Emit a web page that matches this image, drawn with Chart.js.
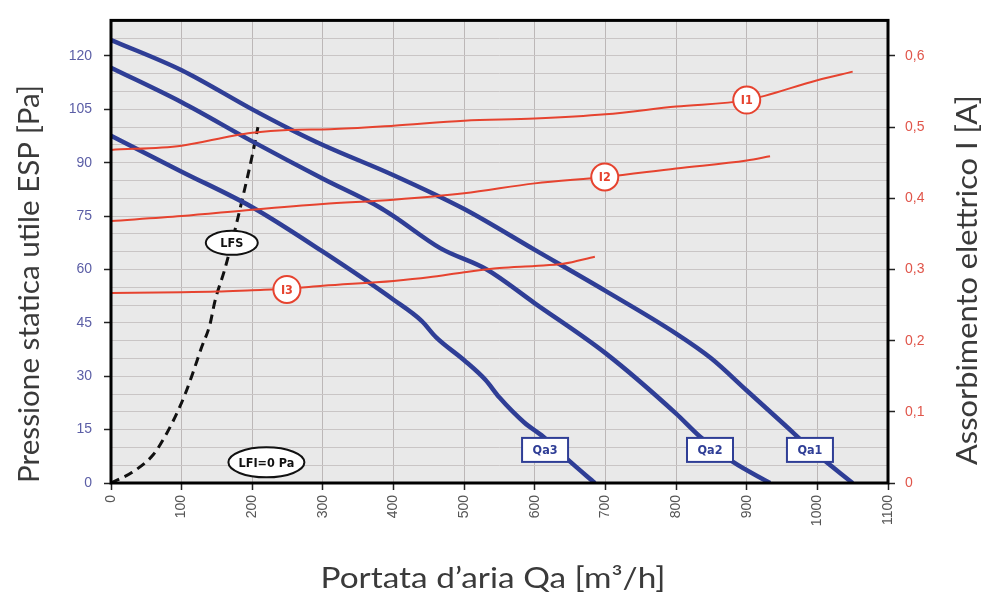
<!DOCTYPE html>
<html>
<head>
<meta charset="utf-8">
<script src="https://cdn.jsdelivr.net/npm/chart.js@4.4.1/dist/chart.umd.min.js"></script>
<style>
  html, body { margin: 0; padding: 0; background: #ffffff; }
  #wrap { width: 988px; height: 605px; }
</style>
</head>
<body>
<div id="wrap"><canvas id="fanChart" width="988" height="605"></canvas></div>
<script>
// Fan curves: air flow Qa [m3/h] against available static pressure ESP [Pa]
const flowQa1 = [0, 100, 200, 255, 300, 400, 500, 600, 700, 800, 850, 900, 950, 1000, 1050];
const pressQa1 = [124.5, 116, 105, 99.3, 95, 86.5, 77, 65.5, 54, 42, 35, 26, 17, 8, 0];

const flowQa2 = [0, 100, 200, 300, 380, 400, 466, 532, 600, 700, 800, 834, 880, 933];
const pressQa2 = [116.7, 107, 96, 85.5, 77.5, 75, 66, 60, 50.5, 36.5, 19.5, 13, 6, 0];

const flowQa3 = [0, 100, 200, 300, 400, 440, 460, 500, 530, 550, 585, 612, 650, 685];
const pressQa3 = [97.6, 87.5, 77.5, 65, 51.5, 45.5, 41, 34.5, 29, 24, 17, 13, 6, 0];

// Electrical absorption I [A] for the three speeds
const flowI1 = [0, 100, 173, 200, 250, 310, 400, 500, 600, 700, 800, 900, 1000, 1050];
const currI1 = [0.468, 0.474, 0.488, 0.492, 0.496, 0.497, 0.502, 0.509, 0.512, 0.518, 0.529, 0.538, 0.566, 0.578];

const flowI2 = [0, 100, 200, 300, 400, 500, 600, 700, 800, 900, 933];
const currI2 = [0.368, 0.375, 0.384, 0.392, 0.398, 0.407, 0.421, 0.430, 0.442, 0.453, 0.459];

const flowI3 = [0, 100, 150, 200, 250, 300, 400, 450, 500, 550, 600, 640, 685];
const currI3 = [0.267, 0.268, 0.269, 0.271, 0.273, 0.277, 0.284, 0.289, 0.296, 0.302, 0.305, 0.308, 0.318];

// System line LFS
const flowLFS = [0, 30, 60, 79, 93, 105, 116, 128, 140, 147, 161, 171, 185, 201, 208];
const pressLFS = [0, 3, 8, 14, 19.5, 25, 31, 38, 44.5, 51, 60, 67.5, 79, 93, 100];

// Axis ranges and tick steps
const flowTicks = { min: 0, max: 1100, step: 100 };
const pressTicks = { min: 0, max: 130, step: 5, labelEvery: 15 };
const currTicks = { min: 0, max: 0.65, step: 0.1 };

const titleLeft = 'Pressione statica utile ESP [Pa]';
const titleRight = 'Assorbimento elettrico I [A]';
const titleBottom = 'Portata d\u2019aria Qa [m\u00b3/h]';

const toPoints = (xs, ys) => xs.map((x, i) => ({ x: x, y: ys[i] }));

const BLUE = '#2f3e96';
const RED = '#e6432f';

// Labels placed on the curves (data coordinates)
const tagQa = [
  { text: 'Qa1', x: 989.5, y: 9.3 },
  { text: 'Qa2', x: 848, y: 9.3 },
  { text: 'Qa3', x: 614.5, y: 9.3 }
];
const tagI = [
  { text: 'I1', x: 900, y: 0.538 },
  { text: 'I2', x: 699, y: 0.430 },
  { text: 'I3', x: 249, y: 0.272 }
];
const tagOval = [
  { text: 'LFS', x: 171, y: 67.5, rx: 26, ry: 12 },
  { text: 'LFI=0 Pa', x: 220, y: 5.8, rx: 38, ry: 15 }
];

// Draws text rotated/stretched so that it spans a given length
function drawTitle(ctx, text, cx, cy, angle, span, size) {
  ctx.save();
  ctx.font = size + 'px Lato, "Open Sans", sans-serif';
  const w = ctx.measureText(text).width;
  ctx.translate(cx, cy);
  ctx.rotate(angle);
  ctx.scale(span / w, 1);
  ctx.textAlign = 'center';
  ctx.textBaseline = 'middle';
  ctx.fillText(text, 0, 0);
  ctx.restore();
}

const decorations = {
  id: 'decorations',
  beforeDatasetsDraw(chart) {
    const { ctx, chartArea: a } = chart;
    ctx.save();
    ctx.globalCompositeOperation = 'destination-over';
    ctx.fillStyle = '#e9e9e9';
    ctx.fillRect(a.left, a.top, a.right - a.left, a.bottom - a.top);
    ctx.restore();
  },
  afterDatasetsDraw(chart) {
    const { ctx, chartArea: a, scales } = chart;
    const sx = scales.x, sy = scales.y, sy1 = scales.y1;
    ctx.save();

    // plot frame
    ctx.strokeStyle = '#000';
    ctx.lineWidth = 3;
    ctx.strokeRect(a.left, a.top, a.right - a.left, a.bottom - a.top);

    const labelFont = 'bold 12.5px "Liberation Sans Narrow", "DejaVu Sans Condensed", "Liberation Sans", sans-serif';
    ctx.textAlign = 'center';
    ctx.textBaseline = 'middle';

    // speed boxes
    tagQa.forEach(t => {
      const cx = sx.getPixelForValue(t.x), cy = sy.getPixelForValue(t.y);
      const w = 46, h = 24;
      ctx.fillStyle = '#fff';
      ctx.fillRect(cx - w / 2, cy - h / 2, w, h);
      ctx.strokeStyle = BLUE;
      ctx.lineWidth = 2;
      ctx.strokeRect(cx - w / 2, cy - h / 2, w, h);
      ctx.fillStyle = BLUE;
      ctx.font = labelFont;
      ctx.fillText(t.text, cx, cy + 1);
    });

    // current circles
    tagI.forEach(t => {
      const cx = sx.getPixelForValue(t.x), cy = sy1.getPixelForValue(t.y);
      ctx.beginPath();
      ctx.arc(cx, cy, 13.5, 0, Math.PI * 2);
      ctx.fillStyle = '#fff';
      ctx.fill();
      ctx.strokeStyle = RED;
      ctx.lineWidth = 2;
      ctx.stroke();
      ctx.fillStyle = RED;
      ctx.font = labelFont;
      ctx.fillText(t.text, cx, cy + 1);
    });

    // system line ovals
    tagOval.forEach(t => {
      const cx = sx.getPixelForValue(t.x), cy = sy.getPixelForValue(t.y);
      ctx.beginPath();
      ctx.ellipse(cx, cy, t.rx, t.ry, 0, 0, Math.PI * 2);
      ctx.fillStyle = '#fff';
      ctx.fill();
      ctx.strokeStyle = '#111';
      ctx.lineWidth = 2;
      ctx.stroke();
      ctx.fillStyle = '#111';
      ctx.font = labelFont;
      ctx.fillText(t.text, cx, cy + 1);
    });

    // axis titles
    ctx.fillStyle = '#3a3a3a';
    drawTitle(ctx, titleBottom, 493, 579, 0, 345, 28);
    drawTitle(ctx, titleLeft, 30, 284, -Math.PI / 2, 398, 28);
    drawTitle(ctx, titleRight, 968, 280, -Math.PI / 2, 370, 28);

    ctx.restore();
  }
};

const tickFont = { family: '"Liberation Sans", Arial, sans-serif', size: 14 };

new Chart(document.getElementById('fanChart'), {
  type: 'line',
  data: {
    datasets: [
      { label: 'I1', data: toPoints(flowI1, currI1), yAxisID: 'y1', borderColor: RED, borderWidth: 2 },
      { label: 'I2', data: toPoints(flowI2, currI2), yAxisID: 'y1', borderColor: RED, borderWidth: 2 },
      { label: 'I3', data: toPoints(flowI3, currI3), yAxisID: 'y1', borderColor: RED, borderWidth: 2 },
      { label: 'Qa1', data: toPoints(flowQa1, pressQa1), yAxisID: 'y', borderColor: BLUE, borderWidth: 4.5 },
      { label: 'Qa2', data: toPoints(flowQa2, pressQa2), yAxisID: 'y', borderColor: BLUE, borderWidth: 4.5 },
      { label: 'Qa3', data: toPoints(flowQa3, pressQa3), yAxisID: 'y', borderColor: BLUE, borderWidth: 4.5 },
      { label: 'LFS', data: toPoints(flowLFS, pressLFS), yAxisID: 'y', borderColor: '#111', borderWidth: 3, borderDash: [9, 6] }
    ]
  },
  options: {
    responsive: false,
    animation: false,
    devicePixelRatio: 1,
    layout: { padding: { top: 17, left: 0, right: 0, bottom: 0 } },
    elements: {
      point: { radius: 0, hoverRadius: 0 },
      line: { cubicInterpolationMode: 'monotone', fill: false, borderCapStyle: 'butt' }
    },
    plugins: { legend: { display: false }, tooltip: { enabled: false } },
    scales: {
      x: {
        type: 'linear',
        min: flowTicks.min, max: flowTicks.max,
        afterFit: s => { s.height = 122; },
        border: { display: false },
        grid: { color: '#bcb7b7', lineWidth: 1, tickLength: 7, tickColor: '#222', tickWidth: 1.5 },
        ticks: {
          stepSize: flowTicks.step, maxRotation: 90, minRotation: 90, autoSkip: false,
          color: '#555', font: tickFont, padding: 5,
          callback: v => String(v)
        }
      },
      y: {
        position: 'left',
        min: pressTicks.min, max: pressTicks.max,
        afterFit: s => { s.width = 111; },
        border: { display: false },
        grid: {
          color: '#c9c5c5', lineWidth: 1, tickLength: 7, tickWidth: 1.5,
          tickColor: c => (c.tick && c.tick.value % pressTicks.labelEvery === 0) ? '#222' : 'rgba(0,0,0,0)'
        },
        ticks: {
          stepSize: pressTicks.step, autoSkip: false,
          color: '#5b5ea6', font: tickFont, padding: 12,
          callback: v => (v % pressTicks.labelEvery === 0 ? String(v) : '')
        }
      },
      y1: {
        position: 'right',
        min: currTicks.min, max: currTicks.max,
        afterFit: s => { s.width = 100; },
        border: { display: false },
        grid: { drawOnChartArea: false, tickLength: 7, tickColor: '#222', tickWidth: 1.5 },
        ticks: {
          stepSize: currTicks.step, includeBounds: false, autoSkip: false,
          color: '#e0554a', font: tickFont, padding: 10,
          callback: v => (Math.abs(v) < 1e-9 ? '0' : v.toFixed(1).replace('.', ','))
        }
      }
    }
  },
  plugins: [decorations]
});
</script>
</body>
</html>
